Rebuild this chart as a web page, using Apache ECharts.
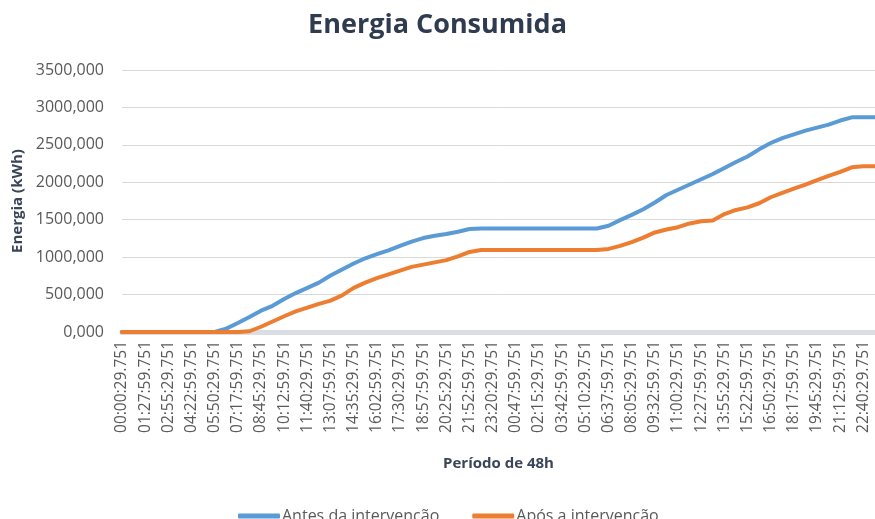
<!DOCTYPE html>
<html>
<head>
<meta charset="utf-8">
<script src="https://cdn.jsdelivr.net/npm/echarts@6/dist/echarts.min.js"></script>
<style>
html,body{margin:0;padding:0;background:#fff;}
#chart{width:875px;height:519px;}
</style>
</head>
<body>
<div id="chart"></div>
<script>
// Time stamps (every 43:45, labels shown every second one)
const categories = [
"00:00:29.751","00:44:14.751","01:27:59.751","02:11:44.751","02:55:29.751","03:39:14.751",
"04:22:59.751","05:06:44.751","05:50:29.751","06:34:14.751","07:17:59.751","08:01:44.751",
"08:45:29.751","09:29:14.751","10:12:59.751","10:56:44.751","11:40:29.751","12:24:14.751",
"13:07:59.751","13:51:44.751","14:35:29.751","15:19:14.751","16:02:59.751","16:46:44.751",
"17:30:29.751","18:14:14.751","18:57:59.751","19:41:44.751","20:25:29.751","21:09:14.751",
"21:52:59.751","22:36:44.751","23:20:29.751","00:04:14.751","00:47:59.751","01:31:44.751",
"02:15:29.751","02:59:14.751","03:42:59.751","04:26:44.751","05:10:29.751","05:54:14.751",
"06:37:59.751","07:21:44.751","08:05:29.751","08:49:14.751","09:32:59.751","10:16:44.751",
"11:00:29.751","11:44:14.751","12:27:59.751","13:11:44.751","13:55:29.751","14:39:14.751",
"15:22:59.751","16:06:44.751","16:50:29.751","17:34:14.751","18:17:59.751","19:01:44.751",
"19:45:29.751","20:29:14.751","21:12:59.751","21:56:44.751","22:40:29.751","23:24:14.751"
];

const antes = [
0,0,0,0,0,0,0,0,0,45,
120,200,285,350,440,520,590,660,755,835,
915,985,1040,1090,1150,1208,1255,1285,1310,1340,
1375,1383,1383,1383,1383,1383,1383,1383,1383,1383,
1383,1383,1420,1495,1565,1640,1730,1830,1900,1970,
2040,2110,2190,2270,2345,2440,2525,2590,2640,2690,
2730,2770,2825,2868,2868,2868
];

const apos = [
0,0,0,0,0,0,0,0,0,0,
0,10,70,140,210,275,325,375,420,490,
590,660,720,770,820,870,900,930,960,1010,
1070,1095,1095,1095,1095,1095,1095,1095,1095,1095,
1095,1095,1110,1150,1200,1260,1330,1370,1400,1450,
1480,1490,1575,1630,1665,1720,1800,1860,1915,1970,
2030,2085,2140,2200,2215,2215
];

const seriesNames = ["Antes da intervenção", "Após a intervenção"];
const yTicks = [0, 500, 1000, 1500, 2000, 2500, 3000, 3500];

const FONT = "'Open Sans', sans-serif";
const chart = echarts.init(document.getElementById('chart'), null, {renderer: 'canvas'});
chart.setOption({
  animation: false,
  backgroundColor: '#ffffff',
  title: {
    text: 'Energia Consumida',
    left: 'center',
    top: 7,
    textStyle: {fontFamily: FONT, fontSize: 27, fontWeight: 'bold', color: '#2f3b4f'}
  },
  legend: {
    data: seriesNames,
    left: 233,
    top: 503,
    itemGap: 33,
    itemWidth: 42,
    itemHeight: 5,
    icon: 'roundRect',
    textStyle: {fontFamily: FONT, fontSize: 16, color: '#595959', padding: [0,0,0,-3]}
  },
  grid: {left: 122, right: 0, top: 70, height: 262, containLabel: false},
  xAxis: {
    type: 'category',
    data: categories,
    boundaryGap: false,
    name: 'Período de 48h',
    nameLocation: 'middle',
    nameGap: 124,
    nameTextStyle: {fontFamily: FONT, fontSize: 15, fontWeight: 'bold', color: '#3a4558'},
    axisLine: {lineStyle: {color: '#dadde3', width: 5}},
    axisTick: {show: false},
    axisLabel: {
      interval: 1,
      rotate: 90,
      margin: 9,
      fontFamily: FONT,
      fontSize: 15.5,
      color: '#595959'
    },
    splitLine: {show: false}
  },
  yAxis: {
    type: 'value',
    min: yTicks[0],
    max: yTicks[yTicks.length - 1],
    interval: 500,
    name: 'Energia (kWh)',
    nameLocation: 'middle',
    nameGap: 97,
    nameRotate: 90,
    nameTextStyle: {fontFamily: FONT, fontSize: 15, fontWeight: 'bold', color: '#3a4558'},
    axisLine: {show: false},
    axisTick: {show: false},
    axisLabel: {
      margin: 18,
      fontFamily: FONT,
      fontSize: 16,
      color: '#595959',
      formatter: v => v.toFixed(3).replace('.', ',')
    },
    splitLine: {lineStyle: {color: '#d9d9d9', width: 1}}
  },
  series: [
    {
      name: seriesNames[0],
      type: 'line',
      data: antes,
      showSymbol: false,
      symbol: 'none',
      lineStyle: {color: '#5b9bd5', width: 4, cap: 'round', join: 'round'},
      itemStyle: {color: '#5b9bd5'}
    },
    {
      name: seriesNames[1],
      type: 'line',
      data: apos,
      showSymbol: false,
      symbol: 'none',
      lineStyle: {color: '#ed7d31', width: 4, cap: 'round', join: 'round'},
      itemStyle: {color: '#ed7d31'}
    }
  ]
});
</script>
</body>
</html>
